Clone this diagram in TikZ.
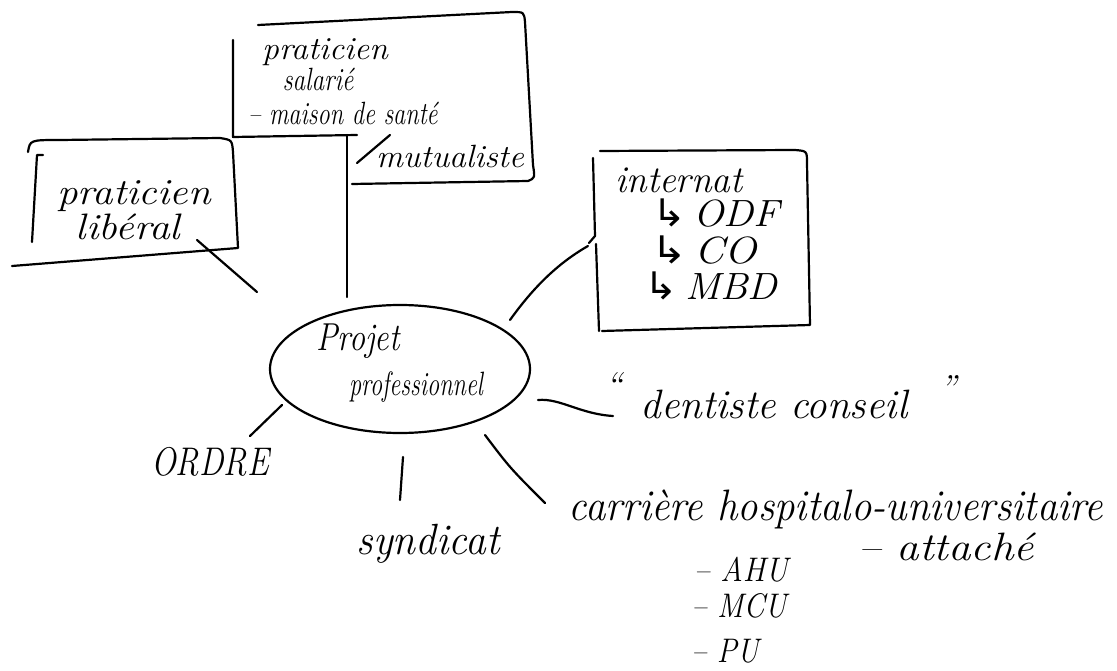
\documentclass[tikz,border=0pt]{standalone}
\usepackage{fontspec}
\usetikzlibrary{shapes.geometric}
\newfontfamily\symfont{DejaVu Sans}
\newcommand{\hookarr}{{\symfont\char"21B3}}
% stretch a handwritten-looking label: \hs{xscale}{yscale}{text}
\newcommand{\hs}[3]{\scalebox{#1}[#2]{#3}}
\begin{document}
\begin{tikzpicture}[x=1pt,y=-1pt,line width=2.2pt,line cap=round,line join=round,
  hand/.style={font=\fontsize{#1}{#1}\selectfont\itshape,inner sep=0pt,anchor=base},
  hand/.default=30,
  link/.style={line width=2.2pt}]
\useasboundingbox[fill=white] (0,0) rectangle (1117,671);

% central topic
\node[draw,ellipse,line width=2.2pt,minimum width=260pt,minimum height=128pt] (core) at (400,369) {};
\node[hand=30] (projet) at (358,350) {\hs{1.07}{1.3}{Projet}};
\node[hand=27] (prof) at (416,395) {\hs{0.9}{1.25}{professionnel}};

% salaried practice box (notched outline)
\draw (258,25) -- (512,12) .. controls (524,12) .. (525,22) -- (533,165)
      .. controls (535,178) .. (528,181) -- (352,184);
\draw (233,40) -- (233,137) -- (357,135);
\node[hand=28] (sal1) at (325,60) {\hs{1.2}{1.15}{praticien}};
\node[hand=28] (sal2) at (318,91) {\hs{0.9}{1.15}{salarié}};
\node[hand=28] (sal3) at (343,125) {\hs{0.87}{1.15}{– maison de santé}};
\node[hand=28] (sal4) at (450,168) {\hs{1.2}{1.15}{mutualiste}};
\coordinate (slA) at (357,163);
\coordinate (slB) at (390,135);
\draw (slA) -- (slB);
\coordinate (salfoot) at (347,135);
\coordinate (salend) at (347,297);
\draw[link] (salfoot) -- (salend);

% private practice box
\draw (28,152) .. controls (30,140) .. (60,140) -- (220,138) .. controls (232,140) .. (233,152)
      -- (238,248) -- (12,266);
\draw (43,155) -- (37,155) -- (32,242);
\node[hand=32] (lib1) at (134,205) {\hs{1.28}{1.15}{praticien}};
\node[hand=32] (lib2) at (128,240) {\hs{1.3}{1.15}{libéral}};
\coordinate (libtail) at (197,240);
\coordinate (libend) at (257,292);
\draw[link] (libtail) -- (libend);

% residency box
\draw (600,151) -- (795,150) .. controls (807,151) .. (807,163) -- (810,325) -- (602,331);
\draw (593,158) -- (595,236) -- (589,243);
\draw (596,244) -- (599,331);
\node[hand=33] (int0) at (679,193) {\hs{1.13}{1.15}{internat}};
\node[hand=33] (int1) at (716,227) {\hs{1.23}{1.15}{\hookarr\,ODF}};
\node[hand=33] (int2) at (704,264) {\hs{1.3}{1.15}{\hookarr\,CO}};
\node[hand=33] (int3) at (711,300) {\hs{1.21}{1.15}{\hookarr\,MBD}};
\coordinate (intend) at (588,246);
\coordinate (intstart) at (510,320);
\draw[link] (intstart) .. controls (535,285) and (560,262) .. (intend);

% advisory dentist
\node[hand=41] (conseil) at (774,418) {dentiste conseil};
\node[hand=36] (qopen) at (614,397) {“};
\node[hand=36] (qclose) at (948,400) {”};
\coordinate (constart) at (538,400);
\coordinate (conend) at (613,416);
\draw[link] (constart) .. controls (560,398) and (580,414) .. (conend);

% hospital-university career
\node[hand=40] (chu) at (836,520) {\hs{1.02}{1.1}{carrière hospitalo-universitaire}};
\node[hand=31] (ahu) at (741,581) {\hs{1.0}{1.1}{– AHU}};
\node[hand=31] (mcu) at (739,617) {\hs{0.97}{1.1}{– MCU}};
\node[hand=31] (pu) at (725,662) {\hs{0.97}{1.1}{– PU}};
\node[hand=36] (att) at (946,560) {\hs{1.25}{1.1}{– attaché}};
\coordinate (chustart) at (485,435);
\coordinate (chuend) at (545,503);
\draw[link] (chustart) .. controls (510,468) .. (chuend);

% union
\node[hand=38] (synd) at (428,554) {\hs{1.09}{1.15}{syndicat}};
\coordinate (syndtop) at (403,457);
\coordinate (syndbot) at (400,500);
\draw[link] (syndtop) -- (syndbot);

% professional order
\node[hand=32] (ordre) at (210,475) {\hs{1.03}{1.25}{ORDRE}};
\coordinate (ordtop) at (282,405);
\coordinate (ordbot) at (250,436);
\draw[link] (ordtop) -- (ordbot);
\end{tikzpicture}
\end{document}
